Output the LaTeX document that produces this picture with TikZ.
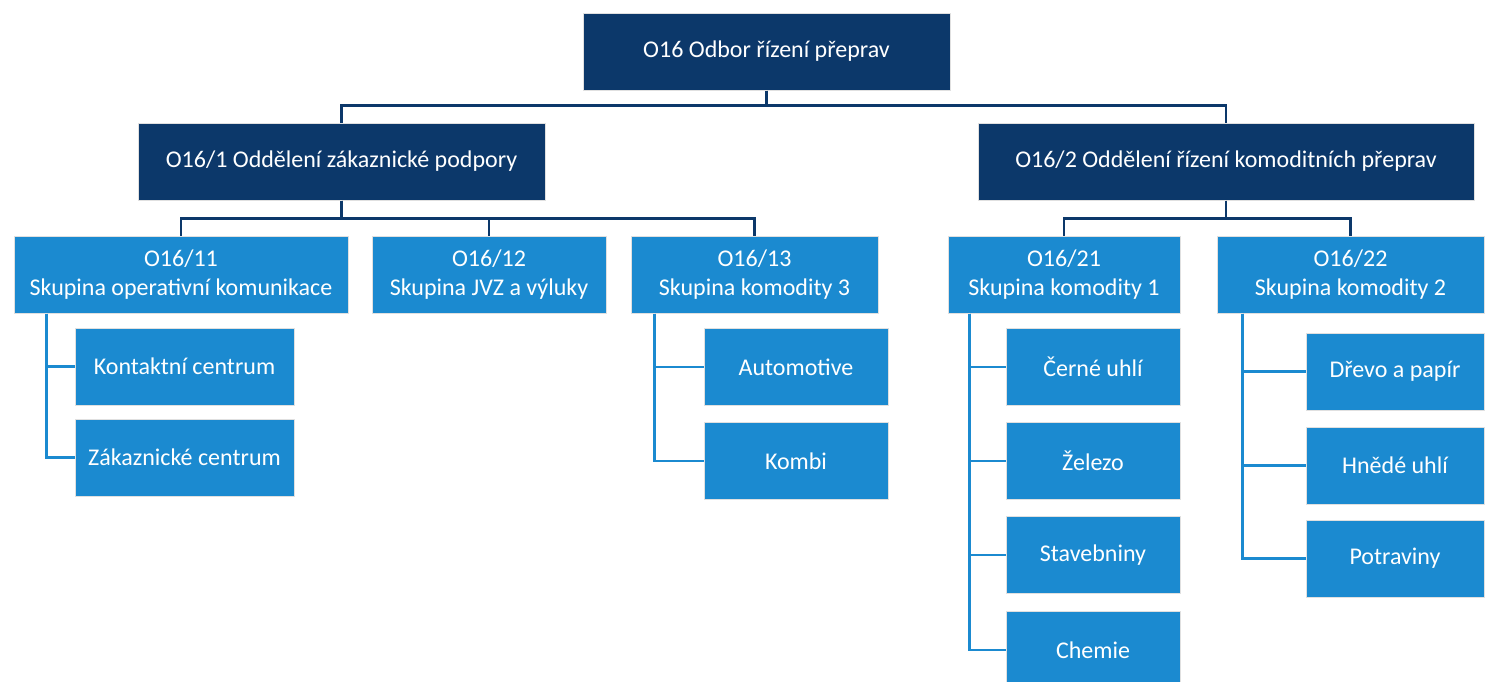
\documentclass[tikz,border=0pt]{standalone}
\usepackage{fontspec}
\setmainfont{Carlito}
\usepackage{xcolor}
\usetikzlibrary{positioning}
\definecolor{navy}{RGB}{12,56,106}
\definecolor{sky}{RGB}{27,138,208}

\begin{document}
\begin{tikzpicture}[x=1pt,y=-1pt,
  box/.style={draw=black!12, line width=1pt, text=white, inner sep=0pt,
    minimum height=77pt, align=center, font=\fontsize{24}{29}\selectfont},
  head/.style={box, fill=navy},
  unit/.style={box, fill=sky},
  trunk/.style={navy, line width=2.4pt},
  twig/.style={sky, line width=2.4pt}]
\useasboundingbox (0,0) rectangle (1491,681);
% odbor a oddeleni
\node[head, minimum width=367pt] (odbor) at (766.5,51.5) {O16 Odbor řízení přeprav};
\node[head, minimum width=407pt] (odd1) at (341.5,161.5) {O16/1 Oddělení zákaznické podpory};
\node[head, minimum width=496pt] (odd2) at (1226,161.5) {O16/2 Oddělení řízení komoditních přeprav};
% skupiny
\node[unit, minimum width=334pt] (sk11) at (181,274.5) {O16/11\\Skupina operativní komunikace};
\node[unit, minimum width=234pt] (sk12) at (489,274.5) {O16/12\\Skupina JVZ a výluky};
\node[unit, minimum width=247pt] (sk13) at (754.5,274.5) {O16/13\\Skupina komodity 3};
\node[unit, minimum width=232pt] (sk21) at (1064,274.5) {O16/21\\Skupina komodity 1};
\node[unit, minimum width=267pt] (sk22) at (1350.5,274.5) {O16/22\\Skupina komodity 2};
% O16/11
\node[unit, minimum width=219pt] (kontakt) at (184.5,366.5) {Kontaktní centrum};
\node[unit, minimum width=219pt, below=13pt of kontakt] (zakaz) {Zákaznické centrum};
% O16/13
\node[unit, minimum width=184pt] (auto) at (796,367) {Automotive};
\node[unit, minimum width=184pt, below=16pt of auto] (kombi) {Kombi};
% O16/21
\node[unit, minimum width=174pt] (cerne) at (1093,367) {Černé uhlí};
\node[unit, minimum width=174pt, below=16pt of cerne] (zelezo) {Železo};
\node[unit, minimum width=174pt, below=16pt of zelezo] (stav) {Stavebniny};
\node[unit, minimum width=174pt, below=17pt of stav] (chemie) {Chemie};
% O16/22
\node[unit, minimum width=178pt] (drevo) at (1395,371.5) {Dřevo a papír};
\node[unit, minimum width=178pt, below=16pt of drevo] (hnede) {Hnědé uhlí};
\node[unit, minimum width=178pt, below=15pt of hnede] (potrav) {Potraviny};
% spojnice
\draw[trunk] (odbor.south) -- ++(0,15) -| (odd1.north);
\draw[trunk] (odbor.south) -- ++(0,15) -| (odd2.north);
\draw[trunk] (odd1.south) -- ++(0,18) -| (sk11.north);
\draw[trunk] (odd1.south) -- ++(0,18) -| (sk12.north);
\draw[trunk] (odd1.south) -- ++(0,18) -| (sk13.north);
\draw[trunk] (odd2.south) -- ++(0,18) -| (sk21.north);
\draw[trunk] (odd2.south) -- ++(0,18) -| (sk22.north);
\foreach \c in {kontakt,zakaz}
  \draw[twig] ([xshift=33pt]sk11.south west) |- (\c.west);
\foreach \c in {auto,kombi}
  \draw[twig] ([xshift=24pt]sk13.south west) |- (\c.west);
\foreach \c in {cerne,zelezo,stav,chemie}
  \draw[twig] ([xshift=22pt]sk21.south west) |- (\c.west);
\foreach \c in {drevo,hnede,potrav}
  \draw[twig] ([xshift=26pt]sk22.south west) |- (\c.west);
\end{tikzpicture}
\end{document}
